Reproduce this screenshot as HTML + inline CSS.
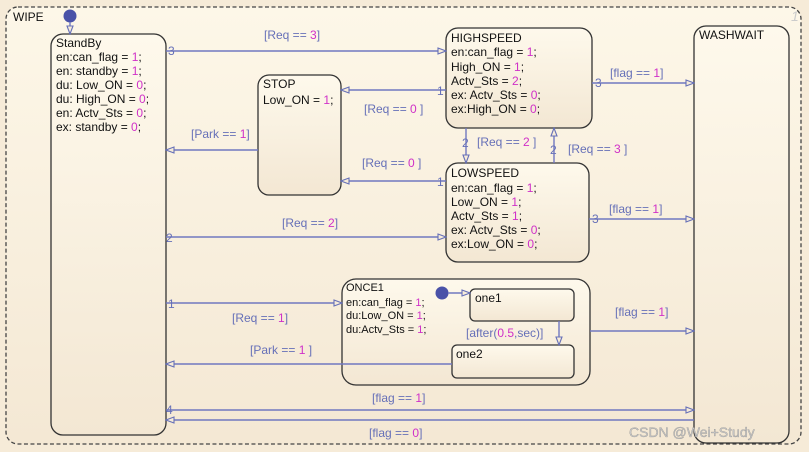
<!DOCTYPE html>
<html><head><meta charset="utf-8"><style>
html,body{margin:0;padding:0;background:#f7ecd9;}
svg{display:block;font-family:"Liberation Sans",sans-serif;}
.t{font-size:12px;fill:#111;}
.s{font-size:11px;fill:#111;}
.l{font-size:12px;fill:#6670b8;}
.m{fill:#d030c8;}
.ln{stroke:#7078c0;stroke-width:1.4;fill:none;}
.st{stroke:#333;stroke-width:1.3;fill:url(#g);}
</style></head><body>
<svg width="809" height="452" viewBox="0 0 809 452">
<defs>
<linearGradient id="g" x1="0" y1="0" x2="0" y2="1"><stop offset="0" stop-color="#fef9ec"/><stop offset="1" stop-color="#f3e7d3"/></linearGradient>
<linearGradient id="bg" x1="0" y1="0" x2="0" y2="1"><stop offset="0" stop-color="#fdf7e8"/><stop offset="1" stop-color="#f4e8d4"/></linearGradient>
<marker id="a" markerWidth="10" markerHeight="8" refX="9" refY="4" orient="auto" markerUnits="userSpaceOnUse"><path d="M1,1 L9,4 L1,7 Z" fill="#f7ecd9" stroke="#6670b8" stroke-width="1.1"/></marker>
</defs>
<rect x="0" y="0" width="809" height="452" fill="#f6ebd8"/>
<rect x="6" y="7" width="795" height="437" rx="12" fill="url(#bg)" stroke="#444" stroke-width="1.3" stroke-dasharray="4,2.5"/>
<text x="13" y="21" class="t" font-size="13">WIPE</text>
<text x="791" y="21" font-size="14" font-style="italic" fill="#ccc">1</text>

<!-- states -->
<rect x="51" y="34" width="115" height="401" rx="12" class="st"/>
<text class="t"><tspan x="56" y="47">StandBy</tspan><tspan x="56" y="61">en:can_flag = <tspan class="m">1</tspan>;</tspan><tspan x="56" y="75">en: standby = <tspan class="m">1</tspan>;</tspan><tspan x="56" y="89">du: Low_ON = <tspan class="m">0</tspan>;</tspan><tspan x="56" y="103">du: High_ON = <tspan class="m">0</tspan>;</tspan><tspan x="56" y="117">en: Actv_Sts = <tspan class="m">0</tspan>;</tspan><tspan x="56" y="131">ex: standby = <tspan class="m">0</tspan>;</tspan></text>

<rect x="258" y="75" width="83" height="120" rx="11" class="st"/>
<text class="t"><tspan x="263" y="88">STOP</tspan><tspan x="263" y="104">Low_ON = <tspan class="m">1</tspan>;</tspan></text>

<rect x="446" y="28" width="146" height="100" rx="12" class="st"/>
<text class="t"><tspan x="451" y="42">HIGHSPEED</tspan><tspan x="451" y="56">en:can_flag = <tspan class="m">1</tspan>;</tspan><tspan x="451" y="71">High_ON = <tspan class="m">1</tspan>;</tspan><tspan x="451" y="85">Actv_Sts = <tspan class="m">2</tspan>;</tspan><tspan x="451" y="99">ex: Actv_Sts = <tspan class="m">0</tspan>;</tspan><tspan x="451" y="113">ex:High_ON = <tspan class="m">0</tspan>;</tspan></text>

<rect x="446" y="163" width="143" height="99" rx="12" class="st"/>
<text class="t"><tspan x="451" y="177">LOWSPEED</tspan><tspan x="451" y="192">en:can_flag = <tspan class="m">1</tspan>;</tspan><tspan x="451" y="206">Low_ON = <tspan class="m">1</tspan>;</tspan><tspan x="451" y="220">Actv_Sts = <tspan class="m">1</tspan>;</tspan><tspan x="451" y="234">ex: Actv_Sts = <tspan class="m">0</tspan>;</tspan><tspan x="451" y="248">ex:Low_ON = <tspan class="m">0</tspan>;</tspan></text>

<rect x="694" y="26" width="95" height="417" rx="12" class="st"/>
<text x="699" y="39" class="t">WASHWAIT</text>

<rect x="342" y="279" width="248" height="106" rx="14" class="st"/>
<text class="s"><tspan x="346" y="291">ONCE1</tspan><tspan x="346" y="306">en:can_flag = <tspan class="m">1</tspan>;</tspan><tspan x="346" y="319">du:Low_ON = <tspan class="m">1</tspan>;</tspan><tspan x="346" y="333">du:Actv_Sts = <tspan class="m">1</tspan>;</tspan></text>
<rect x="470" y="289" width="104" height="32" rx="5" class="st"/>
<text x="475" y="302" class="t">one1</text>
<rect x="452" y="345" width="122" height="33" rx="5" class="st"/>
<text x="456" y="358" class="t">one2</text>

<!-- default transitions -->
<circle cx="70" cy="16" r="6.5" fill="#4a52a8"/>
<path d="M70,22 V34" class="ln" marker-end="url(#a)"/>
<circle cx="442" cy="293" r="6.5" fill="#4a52a8"/>
<path d="M448,293 H470" class="ln" marker-end="url(#a)"/>

<!-- transitions -->
<path d="M166,51 H446" class="ln" marker-end="url(#a)"/>
<text x="168" y="55" class="l">3</text>
<text x="264" y="39" class="l">[Req == <tspan class="m">3</tspan>]</text>

<path d="M446,90 H341" class="ln" marker-end="url(#a)"/>
<text x="437" y="95" class="l">1</text>
<text x="364" y="113" class="l">[Req == <tspan class="m">0</tspan> ]</text>

<path d="M446,181 H341" class="ln" marker-end="url(#a)"/>
<text x="437" y="186" class="l">1</text>
<text x="362" y="167" class="l">[Req == <tspan class="m">0</tspan> ]</text>

<path d="M258,150 H166" class="ln" marker-end="url(#a)"/>
<text x="191" y="138" class="l">[Park == <tspan class="m">1</tspan>]</text>

<path d="M166,237 H446" class="ln" marker-end="url(#a)"/>
<text x="166" y="242" class="l">2</text>
<text x="282" y="227" class="l">[Req == <tspan class="m">2</tspan>]</text>

<path d="M466,128 V163" class="ln" marker-end="url(#a)"/>
<text x="462" y="147" class="l">2</text>
<text x="477" y="146" class="l">[Req == <tspan class="m">2</tspan> ]</text>
<path d="M554,163 V128" class="ln" marker-end="url(#a)"/>
<text x="550" y="154" class="l">2</text>
<text x="568" y="153" class="l">[Req == <tspan class="m">3</tspan> ]</text>

<path d="M592,83 H694" class="ln" marker-end="url(#a)"/>
<text x="595" y="87" class="l">3</text>
<text x="610" y="77" class="l">[flag == <tspan class="m">1</tspan>]</text>
<path d="M589,219 H694" class="ln" marker-end="url(#a)"/>
<text x="592" y="223" class="l">3</text>
<text x="609" y="213" class="l">[flag == <tspan class="m">1</tspan>]</text>

<path d="M166,303 H342" class="ln" marker-end="url(#a)"/>
<text x="168" y="308" class="l">1</text>
<text x="232" y="322" class="l">[Req == <tspan class="m">1</tspan>]</text>

<path d="M452,364 H166" class="ln" marker-end="url(#a)"/>
<text x="250" y="354" class="l">[Park == <tspan class="m">1</tspan> ]</text>

<path d="M590,331 H694" class="ln" marker-end="url(#a)"/>
<text x="615" y="316" class="l">[flag == <tspan class="m">1</tspan>]</text>

<path d="M559,321 V345" class="ln" marker-end="url(#a)"/>
<text x="466" y="337" class="l" fill="#3a4a9a">[after(<tspan class="m">0.5</tspan>,sec)]</text>

<path d="M166,410 H694" class="ln" marker-end="url(#a)"/>
<text x="166" y="414" class="l">4</text>
<text x="372" y="402" class="l">[flag == <tspan class="m">1</tspan>]</text>
<path d="M694,420 H166" class="ln" marker-end="url(#a)"/>
<text x="369" y="437" class="l">[flag == <tspan class="m">0</tspan>]</text>

<text x="629" y="437" font-size="14" fill="#c8c8c8" stroke="#888" stroke-width="0.3">CSDN @Wei+Study</text>
</svg>
</body></html>
